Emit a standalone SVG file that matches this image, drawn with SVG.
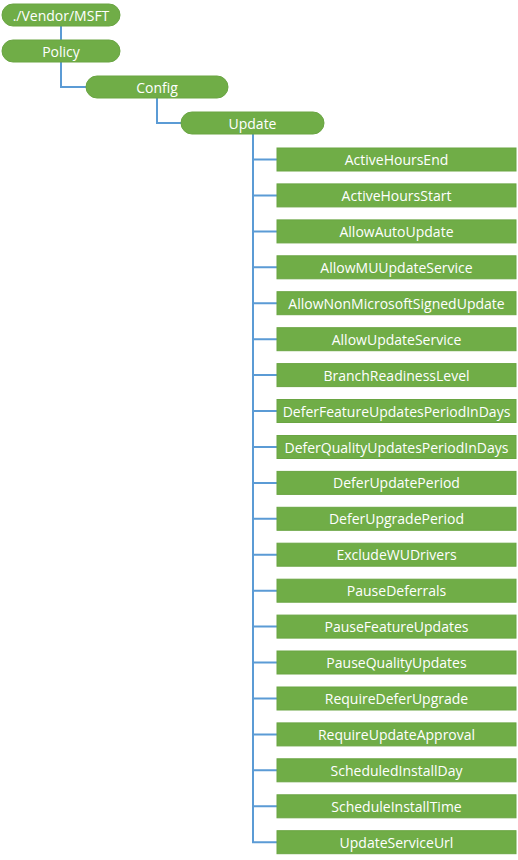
<svg xmlns="http://www.w3.org/2000/svg" width="518" height="860" viewBox="0 0 518 860">
<style>
.n{fill:#70AD47;stroke:#6aa543;stroke-width:1}
.t{font-family:"Open Sans","Noto Sans",sans-serif;font-size:14px;fill:#ffffff;text-anchor:middle;dominant-baseline:central}
.c{fill:none;stroke:#5B9BD5;stroke-width:2}
</style>
<rect width="518" height="860" fill="#ffffff"/>
<g id="connectors">
<path class="c" d="M61 26V40"/>
<path class="c" d="M61 62V87H86"/>
<path class="c" d="M157 98V123H181"/>
<path class="c" d="M253 134V842.2"/>
<path class="c" d="M253 159.5H277M253 195.4H277M253 231.4H277M253 267.3H277M253 303.2H277M253 339.2H277M253 375.1H277M253 411H277M253 447H277M253 482.9H277M253 518.8H277M253 554.7H277M253 590.7H277M253 626.6H277M253 662.5H277M253 698.5H277M253 734.4H277M253 770.3H277M253 806.3H277M252 842.2H277"/>
</g>
<g id="root"><rect class="n" x="2" y="4" width="118" height="22" rx="11"/><text class="t" x="61" y="15">./Vendor/MSFT</text></g>
<g id="policy"><rect class="n" x="2" y="40" width="118" height="22" rx="11"/><text class="t" x="61" y="51">Policy</text></g>
<g id="config"><rect class="n" x="86" y="76" width="142" height="22" rx="11"/><text class="t" x="157" y="87">Config</text></g>
<g id="update"><rect class="n" x="181" y="112" width="143" height="22" rx="11"/><text class="t" x="252.5" y="123">Update</text></g>
<g id="ActiveHoursEnd"><rect class="n" x="277" y="148" width="239" height="23"/><text class="t" x="396.5" y="159.5">ActiveHoursEnd</text></g>
<g id="ActiveHoursStart"><rect class="n" x="277" y="183.9" width="239" height="23"/><text class="t" x="396.5" y="195.4">ActiveHoursStart</text></g>
<g id="AllowAutoUpdate"><rect class="n" x="277" y="219.9" width="239" height="23"/><text class="t" x="396.5" y="231.4">AllowAutoUpdate</text></g>
<g id="AllowMUUpdateService"><rect class="n" x="277" y="255.8" width="239" height="23"/><text class="t" x="396.5" y="267.3">AllowMUUpdateService</text></g>
<g id="AllowNonMicrosoftSignedUpdate"><rect class="n" x="277" y="291.7" width="239" height="23"/><text class="t" x="396.5" y="303.2">AllowNonMicrosoftSignedUpdate</text></g>
<g id="AllowUpdateService"><rect class="n" x="277" y="327.7" width="239" height="23"/><text class="t" x="396.5" y="339.2">AllowUpdateService</text></g>
<g id="BranchReadinessLevel"><rect class="n" x="277" y="363.6" width="239" height="23"/><text class="t" x="396.5" y="375.1">BranchReadinessLevel</text></g>
<g id="DeferFeatureUpdatesPeriodInDays"><rect class="n" x="277" y="399.5" width="239" height="23"/><text class="t" x="396.5" y="411">DeferFeatureUpdatesPeriodInDays</text></g>
<g id="DeferQualityUpdatesPeriodInDays"><rect class="n" x="277" y="435.5" width="239" height="23"/><text class="t" x="396.5" y="447">DeferQualityUpdatesPeriodInDays</text></g>
<g id="DeferUpdatePeriod"><rect class="n" x="277" y="471.4" width="239" height="23"/><text class="t" x="396.5" y="482.9">DeferUpdatePeriod</text></g>
<g id="DeferUpgradePeriod"><rect class="n" x="277" y="507.3" width="239" height="23"/><text class="t" x="396.5" y="518.8">DeferUpgradePeriod</text></g>
<g id="ExcludeWUDrivers"><rect class="n" x="277" y="543.2" width="239" height="23"/><text class="t" x="396.5" y="554.7">ExcludeWUDrivers</text></g>
<g id="PauseDeferrals"><rect class="n" x="277" y="579.2" width="239" height="23"/><text class="t" x="396.5" y="590.7">PauseDeferrals</text></g>
<g id="PauseFeatureUpdates"><rect class="n" x="277" y="615.1" width="239" height="23"/><text class="t" x="396.5" y="626.6">PauseFeatureUpdates</text></g>
<g id="PauseQualityUpdates"><rect class="n" x="277" y="651" width="239" height="23"/><text class="t" x="396.5" y="662.5">PauseQualityUpdates</text></g>
<g id="RequireDeferUpgrade"><rect class="n" x="277" y="687" width="239" height="23"/><text class="t" x="396.5" y="698.5">RequireDeferUpgrade</text></g>
<g id="RequireUpdateApproval"><rect class="n" x="277" y="722.9" width="239" height="23"/><text class="t" x="396.5" y="734.4">RequireUpdateApproval</text></g>
<g id="ScheduledInstallDay"><rect class="n" x="277" y="758.8" width="239" height="23"/><text class="t" x="396.5" y="770.3">ScheduledInstallDay</text></g>
<g id="ScheduleInstallTime"><rect class="n" x="277" y="794.8" width="239" height="23"/><text class="t" x="396.5" y="806.3">ScheduleInstallTime</text></g>
<g id="UpdateServiceUrl"><rect class="n" x="277" y="830.7" width="239" height="23"/><text class="t" x="396.5" y="842.2">UpdateServiceUrl</text></g>
</svg>
